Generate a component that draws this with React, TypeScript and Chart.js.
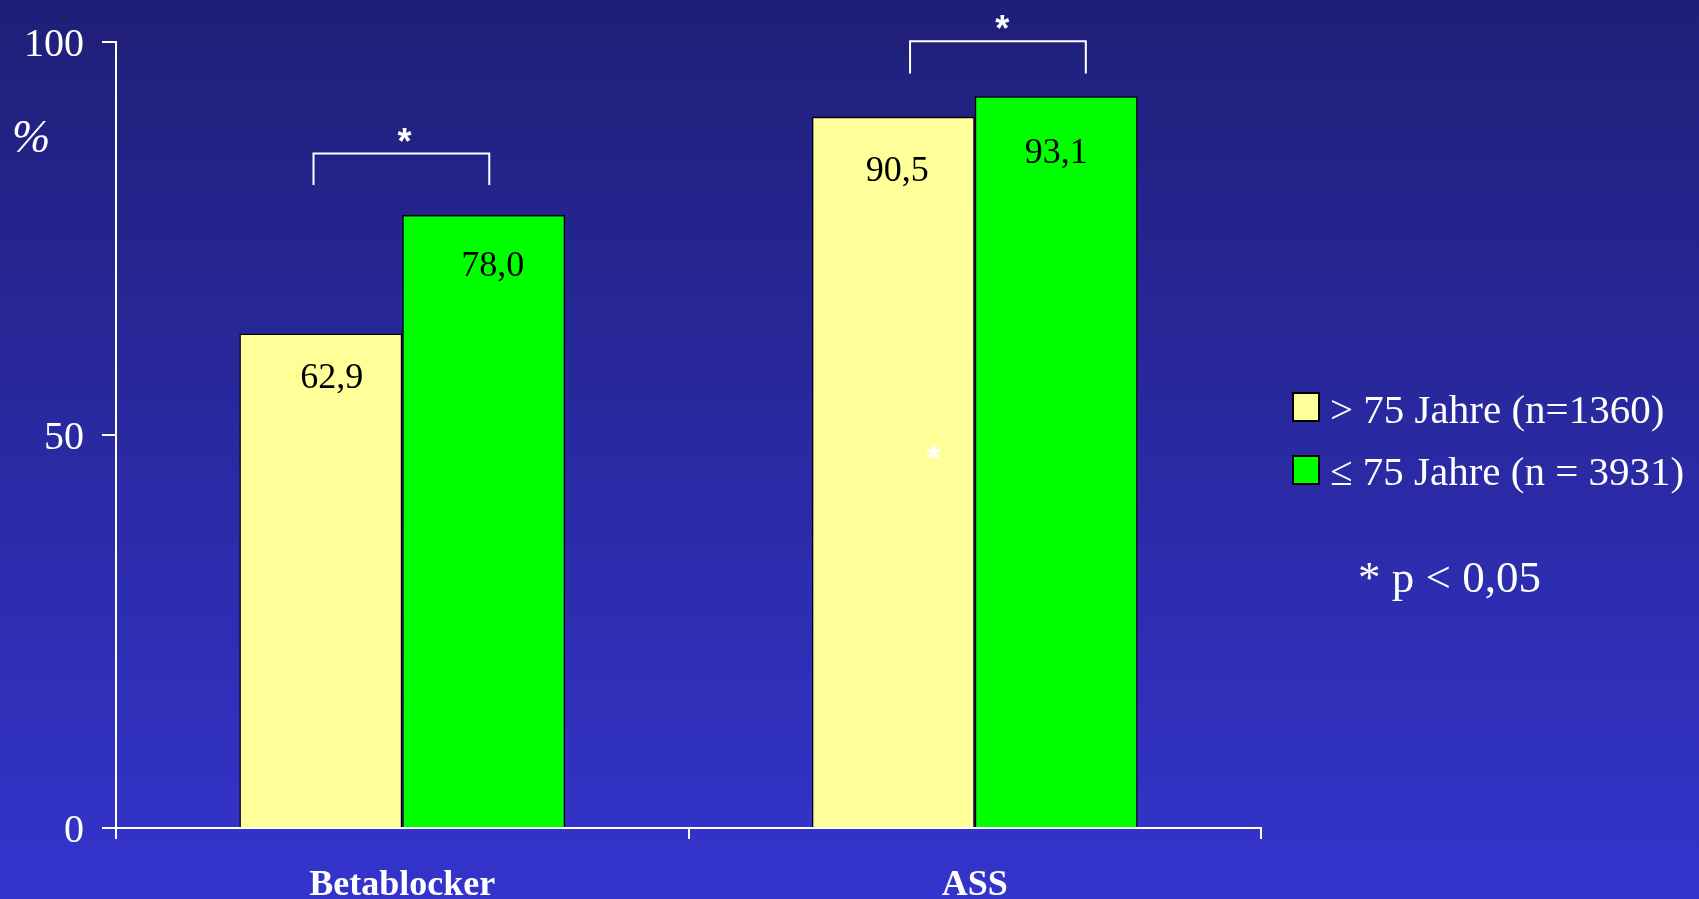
import React, { useEffect, useRef } from "react";
import { Chart, registerables } from "chart.js";

Chart.register(...registerables);

// ---------- data ----------
const categories = ["Betablocker", "ASS"];
const seriesLabels = ["> 75 Jahre (n=1360)", "≤ 75 Jahre (n = 3931)"];
const olderValues = [62.9, 90.5];
const youngerValues = [78.0, 93.1];
const olderValueText = ["62,9", "90,5"];
const youngerValueText = ["78,0", "93,1"];
const yTickValues = [0, 50, 100];
const yUnit = "%";
const footnote = "* p < 0,05";

// significance brackets (x in category-index units, y in % units)
const bracketFrom = [-0.155, 0.887];
const bracketTo = [0.152, 1.194];
const bracketTop = [85.8, 100.1];
const bracketBottom = [81.8, 96.0];
// asterisks (glyph centres, same units)
const starX = [0.004, 1.048, 0.928];
const starY = [88.15, 102.5, 47.8];

// ---------- styles ----------
const SERIF = "'Liberation Serif', 'Times New Roman', serif";
const SANS = "'Liberation Sans', Arial, sans-serif";
const YELLOW = "#FFFF99";
const GREEN = "#00FF00";
// per-label nudges [dx, dy from bar top] for value labels, series-major
const labelNudge = [
  [[11, 45], [4, 55]],
  [[9, 52], [0, 58]],
];

function drawCentered(ctx: CanvasRenderingContext2D, text: string, cx: number, cy: number) {
  ctx.textAlign = "center";
  ctx.textBaseline = "alphabetic";
  const m = ctx.measureText(text);
  const asc = m.actualBoundingBoxAscent;
  const desc = m.actualBoundingBoxDescent;
  ctx.fillText(text, cx, cy + (asc - desc) / 2);
}

const bgPlugin = {
  id: "bgGradient",
  beforeDraw(chart: any) {
    const ctx = chart.ctx as CanvasRenderingContext2D;
    const g = ctx.createLinearGradient(0, 0, 0, chart.height);
    g.addColorStop(0, "rgb(31,31,120)");
    g.addColorStop(1, "rgb(52,52,205)");
    ctx.save();
    ctx.fillStyle = g;
    ctx.fillRect(0, 0, chart.width, chart.height);
    ctx.restore();
  },
};

const annotPlugin = {
  id: "annotations",
  afterDraw(chart: any) {
    const ctx = chart.ctx as CanvasRenderingContext2D;
    const xs = chart.scales.x;
    const ys = chart.scales.y;
    ctx.save();

    // value labels
    const texts = [olderValueText, youngerValueText];
    ctx.fillStyle = "#000";
    ctx.font = `36px ${SERIF}`;
    chart.data.datasets.forEach((_: any, di: number) => {
      const meta = chart.getDatasetMeta(di);
      meta.data.forEach((bar: any, i: number) => {
        const [dx, dy] = labelNudge[di][i];
        drawCentered(ctx, texts[di][i], bar.x + dx, bar.y + dy);
      });
    });

    // brackets
    ctx.strokeStyle = "#fff";
    ctx.lineWidth = 2;
    for (let i = 0; i < bracketFrom.length; i++) {
      const x1 = xs.getPixelForValue(bracketFrom[i]);
      const x2 = xs.getPixelForValue(bracketTo[i]);
      const yt = ys.getPixelForValue(bracketTop[i]);
      const yb = ys.getPixelForValue(bracketBottom[i]);
      ctx.beginPath();
      ctx.moveTo(x1, yb);
      ctx.lineTo(x1, yt);
      ctx.lineTo(x2, yt);
      ctx.lineTo(x2, yb);
      ctx.stroke();
    }

    // asterisks
    ctx.fillStyle = "#fff";
    ctx.font = `bold 36px ${SANS}`;
    for (let i = 0; i < starX.length; i++) {
      drawCentered(ctx, "*", xs.getPixelForValue(starX[i]), ys.getPixelForValue(starY[i]));
    }

    // y unit
    ctx.font = `italic 46px ${SERIF}`;
    ctx.textAlign = "left";
    ctx.textBaseline = "alphabetic";
    ctx.fillText(yUnit, 12, 152);

    // legend
    const boxX = 1293;
    const boxTops = [393, 456];
    const baselines = [423, 485];
    ctx.font = `41px ${SERIF}`;
    chart.data.datasets.forEach((ds: any, i: number) => {
      ctx.fillStyle = ds.backgroundColor;
      ctx.fillRect(boxX, boxTops[i], 26, 28);
      ctx.strokeStyle = "#000";
      ctx.lineWidth = 2;
      ctx.strokeRect(boxX, boxTops[i], 26, 28);
      ctx.fillStyle = "#fff";
      ctx.textAlign = "left";
      ctx.fillText(ds.label, 1330, baselines[i]);
    });

    // footnote
    ctx.font = `45px ${SERIF}`;
    ctx.fillText(footnote, 1358, 592);

    ctx.restore();
  },
};

export default function App() {
  const ref = useRef<HTMLCanvasElement>(null);

  useEffect(() => {
    document.body.style.margin = "0";
    document.body.style.overflow = "hidden";
    const canvas = ref.current!;
    const chart = new Chart(canvas, {
      type: "bar",
      data: {
        labels: categories,
        datasets: [
          {
            label: seriesLabels[0],
            data: olderValues,
            backgroundColor: YELLOW,
            borderColor: "#000",
            borderWidth: 1.5,
            categoryPercentage: 0.569,
            barPercentage: 1,
          },
          {
            label: seriesLabels[1],
            data: youngerValues,
            backgroundColor: GREEN,
            borderColor: "#000",
            borderWidth: 1.5,
            categoryPercentage: 0.569,
            barPercentage: 1,
          },
        ],
      },
      options: {
        animation: false,
        responsive: false,
        devicePixelRatio: 1,
        layout: { padding: { left: 0, right: 438, top: 41, bottom: 0 } },
        plugins: { legend: { display: false }, tooltip: { enabled: false } },
        scales: {
          x: {
            z: 1,
            grid: {
              display: true,
              drawOnChartArea: false,
              drawTicks: true,
              tickLength: 11,
              color: "#fff",
              lineWidth: 2,
              offset: true,
            },
            border: { display: true, color: "#fff", width: 2 },
            ticks: {
              color: "#fff",
              font: { family: SERIF, size: 36, weight: "bold" },
              padding: 25,
              maxRotation: 0,
            },
            afterFit: (s: any) => {
              s.height = 71;
            },
          },
          y: {
            min: 0,
            max: 100,
            afterBuildTicks: (s: any) => {
              s.ticks = yTickValues.map((v) => ({ value: v }));
            },
            grid: {
              drawOnChartArea: false,
              drawTicks: true,
              tickLength: 14,
              color: "#fff",
              lineWidth: 2,
            },
            border: { display: true, color: "#fff", width: 2 },
            ticks: {
              color: "#fff",
              font: { family: SERIF, size: 40 },
              padding: 18,
              labelOffset: 3,
            },
            afterFit: (s: any) => {
              s.width = 116;
            },
          },
        },
      } as any,
      plugins: [bgPlugin, annotPlugin],
    });
    return () => chart.destroy();
  }, []);

  return (
    <div style={{ width: 1699, height: 899 }}>
      <canvas ref={ref} width={1699} height={899} style={{ display: "block", width: 1699, height: 899 }} />
    </div>
  );
}
